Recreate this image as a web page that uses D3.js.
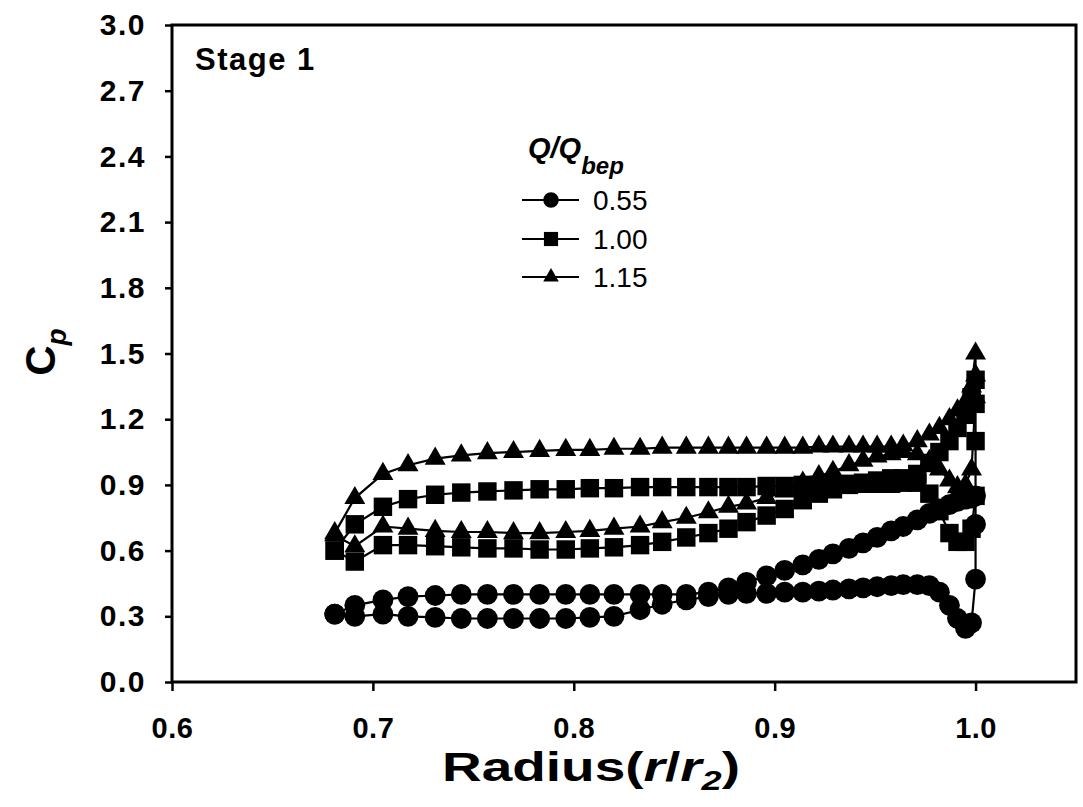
<!DOCTYPE html>
<html>
<head>
<meta charset="utf-8">
<script src="https://cdn.jsdelivr.net/npm/d3@7"></script>
<style>
  html, body { margin: 0; padding: 0; background: #fff; }
  svg { display: block; font-family: "Liberation Sans", Arial, sans-serif; }
</style>
</head>
<body>
<svg id="chart" width="1083" height="807"></svg>
<script>
// Radial stations along the blade (r/r2), shared by every flow rate
const radius = [0.681, 0.691, 0.705, 0.7175, 0.731, 0.744, 0.757, 0.770, 0.783, 0.796,
  0.808, 0.820, 0.833, 0.844, 0.856, 0.867, 0.877, 0.886, 0.896, 0.905,
  0.914, 0.922, 0.929, 0.937, 0.944, 0.951, 0.958, 0.964, 0.971, 0.977,
  0.982, 0.987, 0.991, 0.995, 0.998, 1.0];

// Q/Qbep = 0.55
const cp055Upper = [0.31, 0.35, 0.375, 0.39, 0.395, 0.40, 0.40, 0.40, 0.40, 0.40,
  0.40, 0.40, 0.40, 0.40, 0.40, 0.41, 0.43, 0.455, 0.485, 0.51,
  0.535, 0.56, 0.585, 0.61, 0.635, 0.66, 0.69, 0.71, 0.74, 0.77,
  0.79, 0.81, 0.825, 0.835, 0.84, 0.85];
const cp055Edge = [0.72, 0.47];
const cp055Lower = [0.31, 0.30, 0.31, 0.30, 0.295, 0.29, 0.29, 0.29, 0.29, 0.29,
  0.295, 0.30, 0.33, 0.355, 0.375, 0.39, 0.40, 0.405, 0.405, 0.41,
  0.41, 0.415, 0.42, 0.425, 0.43, 0.435, 0.44, 0.445, 0.445, 0.44,
  0.41, 0.35, 0.29, 0.245, 0.27];

// Q/Qbep = 1.00
const cp100Upper = [0.60, 0.72, 0.80, 0.835, 0.855, 0.865, 0.87, 0.875, 0.88, 0.88,
  0.885, 0.885, 0.89, 0.89, 0.89, 0.89, 0.89, 0.89, 0.895, 0.895,
  0.90, 0.90, 0.90, 0.905, 0.905, 0.905, 0.905, 0.91, 0.95, 1.00,
  1.05, 1.10, 1.16, 1.22, 1.30, 1.38];
const cp100Edge = [1.27, 1.10, 0.85];
const cp100Lower = [0.60, 0.55, 0.625, 0.625, 0.62, 0.615, 0.61, 0.61, 0.605, 0.605,
  0.61, 0.615, 0.625, 0.64, 0.66, 0.68, 0.70, 0.73, 0.76, 0.79,
  0.83, 0.86, 0.88, 0.90, 0.91, 0.92, 0.93, 0.93, 0.91, 0.86,
  0.78, 0.68, 0.64, 0.64, 0.70];

// Q/Qbep = 1.15
const cp115Upper = [0.68, 0.84, 0.95, 0.99, 1.02, 1.035, 1.045, 1.05, 1.055, 1.06,
  1.06, 1.065, 1.065, 1.07, 1.07, 1.07, 1.07, 1.07, 1.07, 1.07,
  1.07, 1.075, 1.075, 1.075, 1.075, 1.075, 1.075, 1.08, 1.10, 1.13,
  1.16, 1.20, 1.24, 1.28, 1.35, 1.50];
const cp115Edge = [1.40, 1.30];
const cp115Lower = [0.67, 0.62, 0.71, 0.70, 0.69, 0.685, 0.685, 0.68, 0.68, 0.685,
  0.69, 0.70, 0.71, 0.73, 0.75, 0.775, 0.80, 0.815, 0.84, 0.87,
  0.91, 0.94, 0.96, 0.99, 1.01, 1.03, 1.04, 1.05, 1.04, 1.01,
  0.97, 0.92, 0.89, 0.90, 0.97];

const flowLabels = ["0.55", "1.00", "1.15"];
const xTicks = [0.6, 0.7, 0.8, 0.9, 1.0];
const yTicks = [0.0, 0.3, 0.6, 0.9, 1.2, 1.5, 1.8, 2.1, 2.4, 2.7, 3.0];
const edgeRadius = 1.0;

// Each flow rate is drawn as one loop: upper side root -> tip, down the tip edge, lower side tip -> root
function loop(upper, edge, lower) {
  const pts = upper.map((c, i) => [radius[i], c]);
  edge.forEach(c => pts.push([edgeRadius, c]));
  for (let i = lower.length - 1; i >= 0; i--) pts.push([radius[i], lower[i]]);
  return pts;
}

const series = [
  { label: flowLabels[0], symbol: d3.symbolCircle, size: 340, legendSize: 190, pts: loop(cp055Upper, cp055Edge, cp055Lower) },
  { label: flowLabels[1], symbol: d3.symbolSquare, size: 340, legendSize: 200, pts: loop(cp100Upper, cp100Edge, cp100Lower) },
  { label: flowLabels[2], symbol: d3.symbolTriangle, size: 190, legendSize: 105, pts: loop(cp115Upper, cp115Edge, cp115Lower) }
];

const svg = d3.select("#chart");
const plotLeft = 172, plotRight = 1076, plotTop = 25, plotBottom = 682;

const x = d3.scaleLinear().domain([0.6, 1.05]).range([plotLeft, plotRight]);
const y = d3.scaleLinear().domain([0, 3]).range([plotBottom, plotTop]);

// Axes
const xAxis = svg.append("g")
  .attr("transform", `translate(0,${plotBottom})`)
  .call(d3.axisBottom(x).tickValues(xTicks).tickSize(9).tickPadding(26).tickFormat(d3.format(".1f")));
const yAxis = svg.append("g")
  .attr("transform", `translate(${plotLeft},0)`)
  .call(d3.axisLeft(y).tickValues(yTicks).tickSize(7).tickPadding(19).tickFormat(d3.format(".1f")));

[xAxis, yAxis].forEach(g => {
  g.select(".domain").remove();
  g.selectAll(".tick line").attr("stroke", "#000").attr("stroke-width", 2.5);
  g.selectAll(".tick text")
    .attr("fill", "#000")
    .style("font-family", "'Liberation Sans', Arial, sans-serif")
    .style("font-weight", "bold");
});
yAxis.selectAll(".tick text").style("font-size", "30px").style("letter-spacing", "1.5px");
xAxis.selectAll(".tick text").style("font-size", "29px").style("letter-spacing", "0.5px");

// Plot frame
svg.append("rect")
  .attr("x", plotLeft).attr("y", plotTop)
  .attr("width", plotRight - plotLeft).attr("height", plotBottom - plotTop)
  .attr("fill", "none").attr("stroke", "#000").attr("stroke-width", 3);

// Series lines and markers
const line = d3.line().x(d => x(d[0])).y(d => y(d[1]));
const plot = svg.append("g");
series.forEach(s => {
  plot.append("path")
    .attr("d", line(s.pts))
    .attr("fill", "none").attr("stroke", "#000").attr("stroke-width", 2.2);
  plot.selectAll(null).data(s.pts).enter().append("path")
    .attr("transform", d => `translate(${x(d[0])},${y(d[1])})`)
    .attr("d", d3.symbol().type(s.symbol).size(s.size))
    .attr("fill", "#000");
});

// Panel label
svg.append("text")
  .attr("x", 195).attr("y", 70)
  .style("font-weight", "bold").style("font-size", "31px").style("letter-spacing", "1.5px")
  .text("Stage 1");

// Legend
const legend = svg.append("g");
const title = legend.append("text")
  .attr("x", 528).attr("y", 158)
  .style("font-weight", "bold").style("font-style", "italic").style("font-size", "29px");
title.append("tspan").text("Q/Q");
title.append("tspan").attr("dy", 16).style("font-size", "24px").text("bep");

const legendY = [200, 239, 277];
series.forEach((s, i) => {
  const ly = legendY[i];
  legend.append("line")
    .attr("x1", 522).attr("x2", 579).attr("y1", ly).attr("y2", ly)
    .attr("stroke", "#000").attr("stroke-width", 2.2);
  legend.append("path")
    .attr("transform", `translate(551,${ly})`)
    .attr("d", d3.symbol().type(s.symbol).size(s.legendSize))
    .attr("fill", "#000");
  legend.append("text")
    .attr("x", 593).attr("y", ly + 10)
    .style("font-size", "28px")
    .text(s.label);
});

// Axis titles (set wide, as in the figure)
const xt = svg.append("text")
  .attr("transform", "translate(591,781) scale(1.34,1)")
  .attr("text-anchor", "middle")
  .style("font-weight", "bold").style("font-size", "41px");
xt.append("tspan").text("Radius(");
xt.append("tspan").style("font-style", "italic").text("r");
xt.append("tspan").text("/");
xt.append("tspan").style("font-style", "italic").text("r");
xt.append("tspan").attr("dy", 9).style("font-size", "27px").style("font-style", "italic").text("2");
xt.append("tspan").attr("dy", -9).text(")");

const yt = svg.append("text")
  .attr("transform", "translate(55,352) rotate(-90)")
  .attr("text-anchor", "middle")
  .style("font-weight", "bold").style("font-size", "42px");
yt.append("tspan").text("C");
yt.append("tspan").attr("dy", 11).style("font-size", "28px").style("font-style", "italic").text("p");
</script>
</body>
</html>
